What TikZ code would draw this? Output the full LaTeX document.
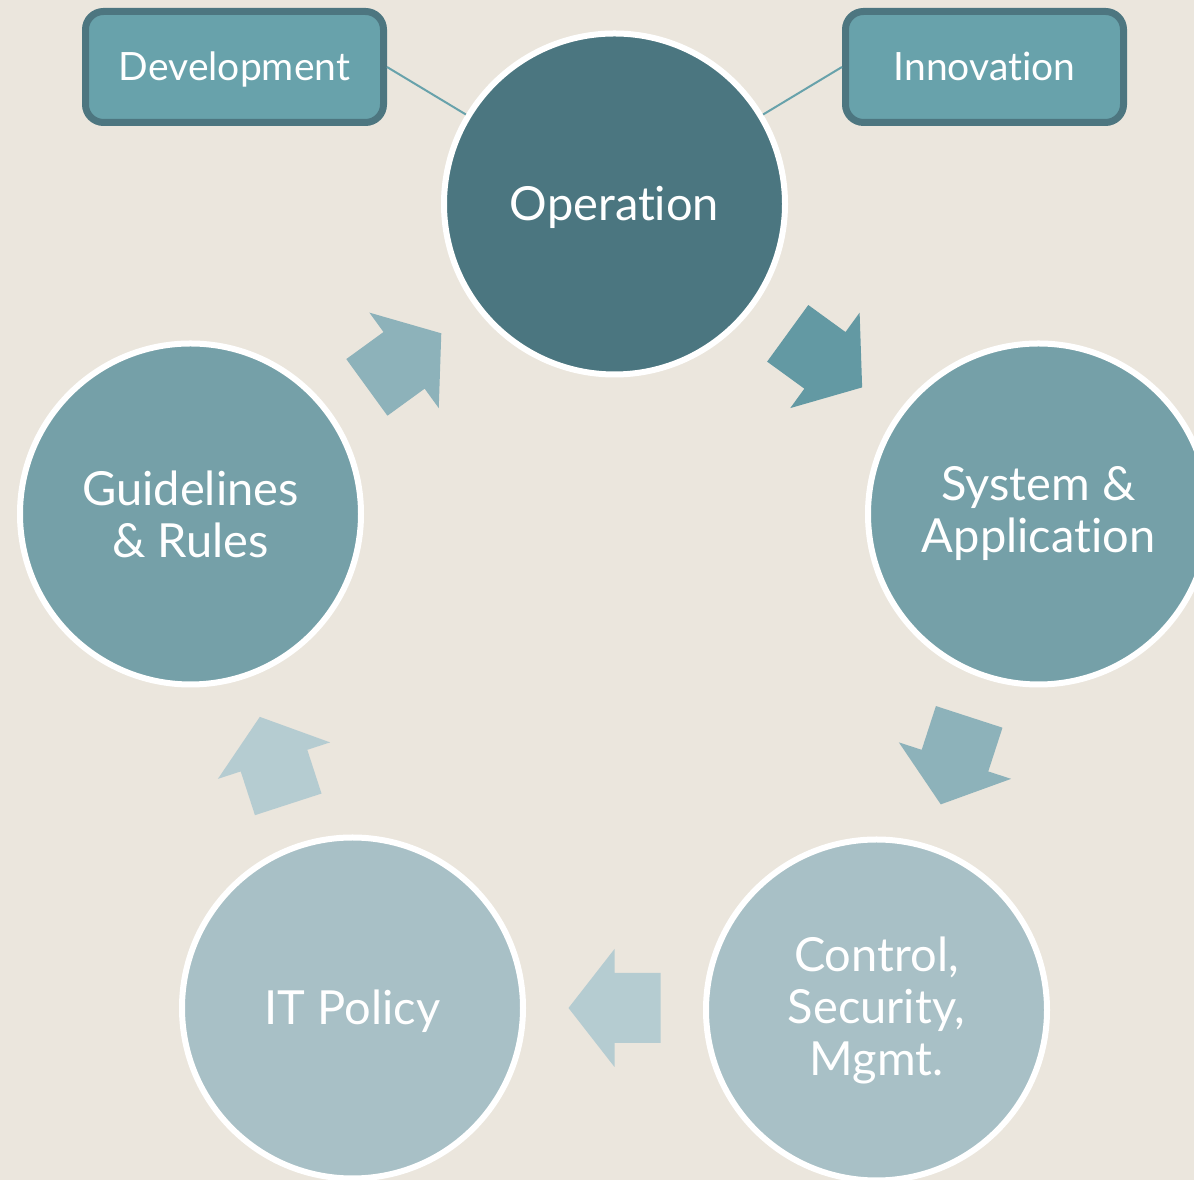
\documentclass[tikz,border=0pt]{standalone}
\usepackage{fontspec}
\setmainfont{Lato}[Ligatures=NoCommon]
\begin{document}
\begin{tikzpicture}[x=1pt,y=1pt,
  bub/.style={circle, draw=white, line width=6pt, minimum size=341pt, inner sep=0pt,
    text=white, align=center, font=\fontsize{47}{52}\selectfont},
  oneline/.style={text height=40pt, text depth=6pt},
  tag/.style={rectangle, rounded corners=18pt, draw=boxedge, line width=7pt, fill=boxfill,
    minimum height=111pt, inner sep=0pt, text=white, font=\fontsize{39}{42}\selectfont,
    text height=35pt, text depth=7pt},
  link/.style={draw=boxfill, line width=2pt}]
\definecolor{bg}{HTML}{EBE6DD}
\definecolor{opfill}{HTML}{4B7680}
\definecolor{midfill}{HTML}{75A0A8}
\definecolor{lightfill}{HTML}{A8C0C6}
\definecolor{boxfill}{HTML}{68A2AB}
\definecolor{boxedge}{HTML}{4D7680}
\definecolor{arA}{HTML}{6399A3}
\definecolor{arB}{HTML}{8DB2BA}
\definecolor{arC}{HTML}{B5CCD1}
\fill[bg] (0,0) rectangle (1194,1180);
\useasboundingbox (0,0) rectangle (1194,1180);
% block arrows of the cycle
\foreach \ang/\col in {54/arA, -18/arB, -90/arC, -162/arC, 126/arB}{
  \fill[\col, shift={(614.5,530)}, shift={(\ang:358)}, rotate=\ang-90]
    (-46,-35) -- (0,-35) -- (0,-59) -- (46,0) -- (0,59) -- (0,35) -- (-46,35) -- cycle;
}
\node[bub, oneline, fill=opfill] (op) at (614.5,976) {Operation};
\node[bub, fill=midfill] (sa) at (1038.5,666) {System \&\\Application};
\node[bub, fill=lightfill] (csm) at (876.5,170) {Control,\\Security,\\Mgmt.};
\node[bub, oneline, fill=lightfill] (it) at (352.5,172) {IT Policy};
\node[bub, fill=midfill] (gr) at (190.5,666) {Guidelines\\\& Rules};
\node[tag, minimum width=298pt] (dev) at (234.5,1113) {Development};
\node[tag, minimum width=278pt] (inn) at (984.5,1113) {Innovation};
\draw[link] (dev.east) -- (op);
\draw[link] (inn.west) -- (op);
\end{tikzpicture}
\end{document}
